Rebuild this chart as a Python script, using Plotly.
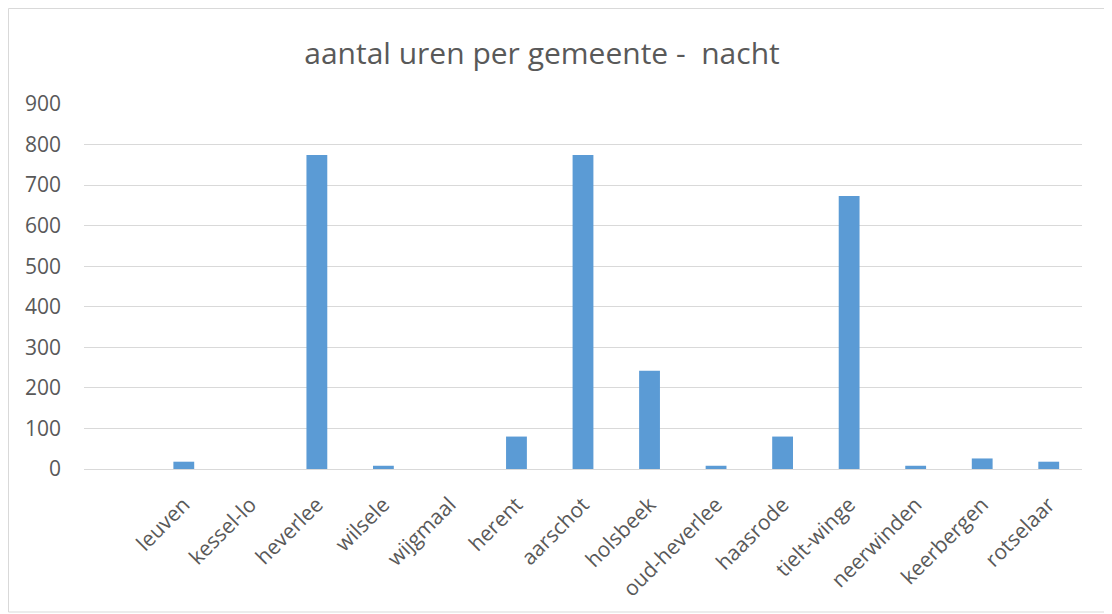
import plotly.graph_objects as go

# data (first slot is an empty category, as in the original sheet)
gemeenten = [' ', 'leuven', 'kessel-lo', 'heverlee', 'wilsele', 'wijgmaal', 'herent',
             'aarschot', 'holsbeek', 'oud-heverlee', 'haasrode', 'tielt-winge',
             'neerwinden', 'keerbergen', 'rotselaar']
uren = [None, 18, 0, 774, 8, 0, 80, 774, 242, 8, 80, 673, 8, 26, 18]

# page body has an 8px margin, so the figure is a bit smaller than the window
W, H = 1104, 606
L, R, T, B = 76, 30, 96, 145
pw, ph = W - L - R, H - T - B

grey = '#595959'
font = 'Open Sans'

fig = go.Figure(go.Bar(
    x=gemeenten,
    y=uren,
    marker=dict(color='#5B9BD5', line=dict(width=0)),
    hoverinfo='x+y',
))

fig.update_layout(
    width=W, height=H,
    margin=dict(l=L, r=R, t=T, b=B),
    paper_bgcolor='white',
    plot_bgcolor='white',
    bargap=0.687,
    showlegend=False,
    font=dict(family=font, color=grey, size=21),
    title=dict(
        text='aantal uren per gemeente -  nacht',
        x=(534 - L) / pw, xref='paper', xanchor='center',
        y=1 - 45 / H, yref='container', yanchor='middle',
        font=dict(family=font, size=30, color=grey),
    ),
)

fig.update_xaxes(
    type='category',
    tickangle=-45,
    showgrid=False,
    showline=True, linecolor='#D9D9D9', linewidth=1,
    ticks='', ticklabelstandoff=14,
    tickfont=dict(family=font, size=21, color=grey),
)
fig.update_yaxes(
    range=[0, 900],
    dtick=100,
    showgrid=True, gridcolor='#D9D9D9', gridwidth=1,
    zeroline=False, showline=False,
    ticks='', ticklabelstandoff=22,
    tickfont=dict(family=font, size=21, color=grey),
)

# light chart border like the spreadsheet chart frame
fig.add_shape(
    type='rect', xref='paper', yref='paper',
    x0=(0.5 - L) / pw, x1=(1103 - L) / pw,
    y0=(H - B - 604) / ph, y1=(H - B - 0.5) / ph,
    line=dict(color='#D9D9D9', width=1), layer='below',
)

fig.write_html('out.html')
